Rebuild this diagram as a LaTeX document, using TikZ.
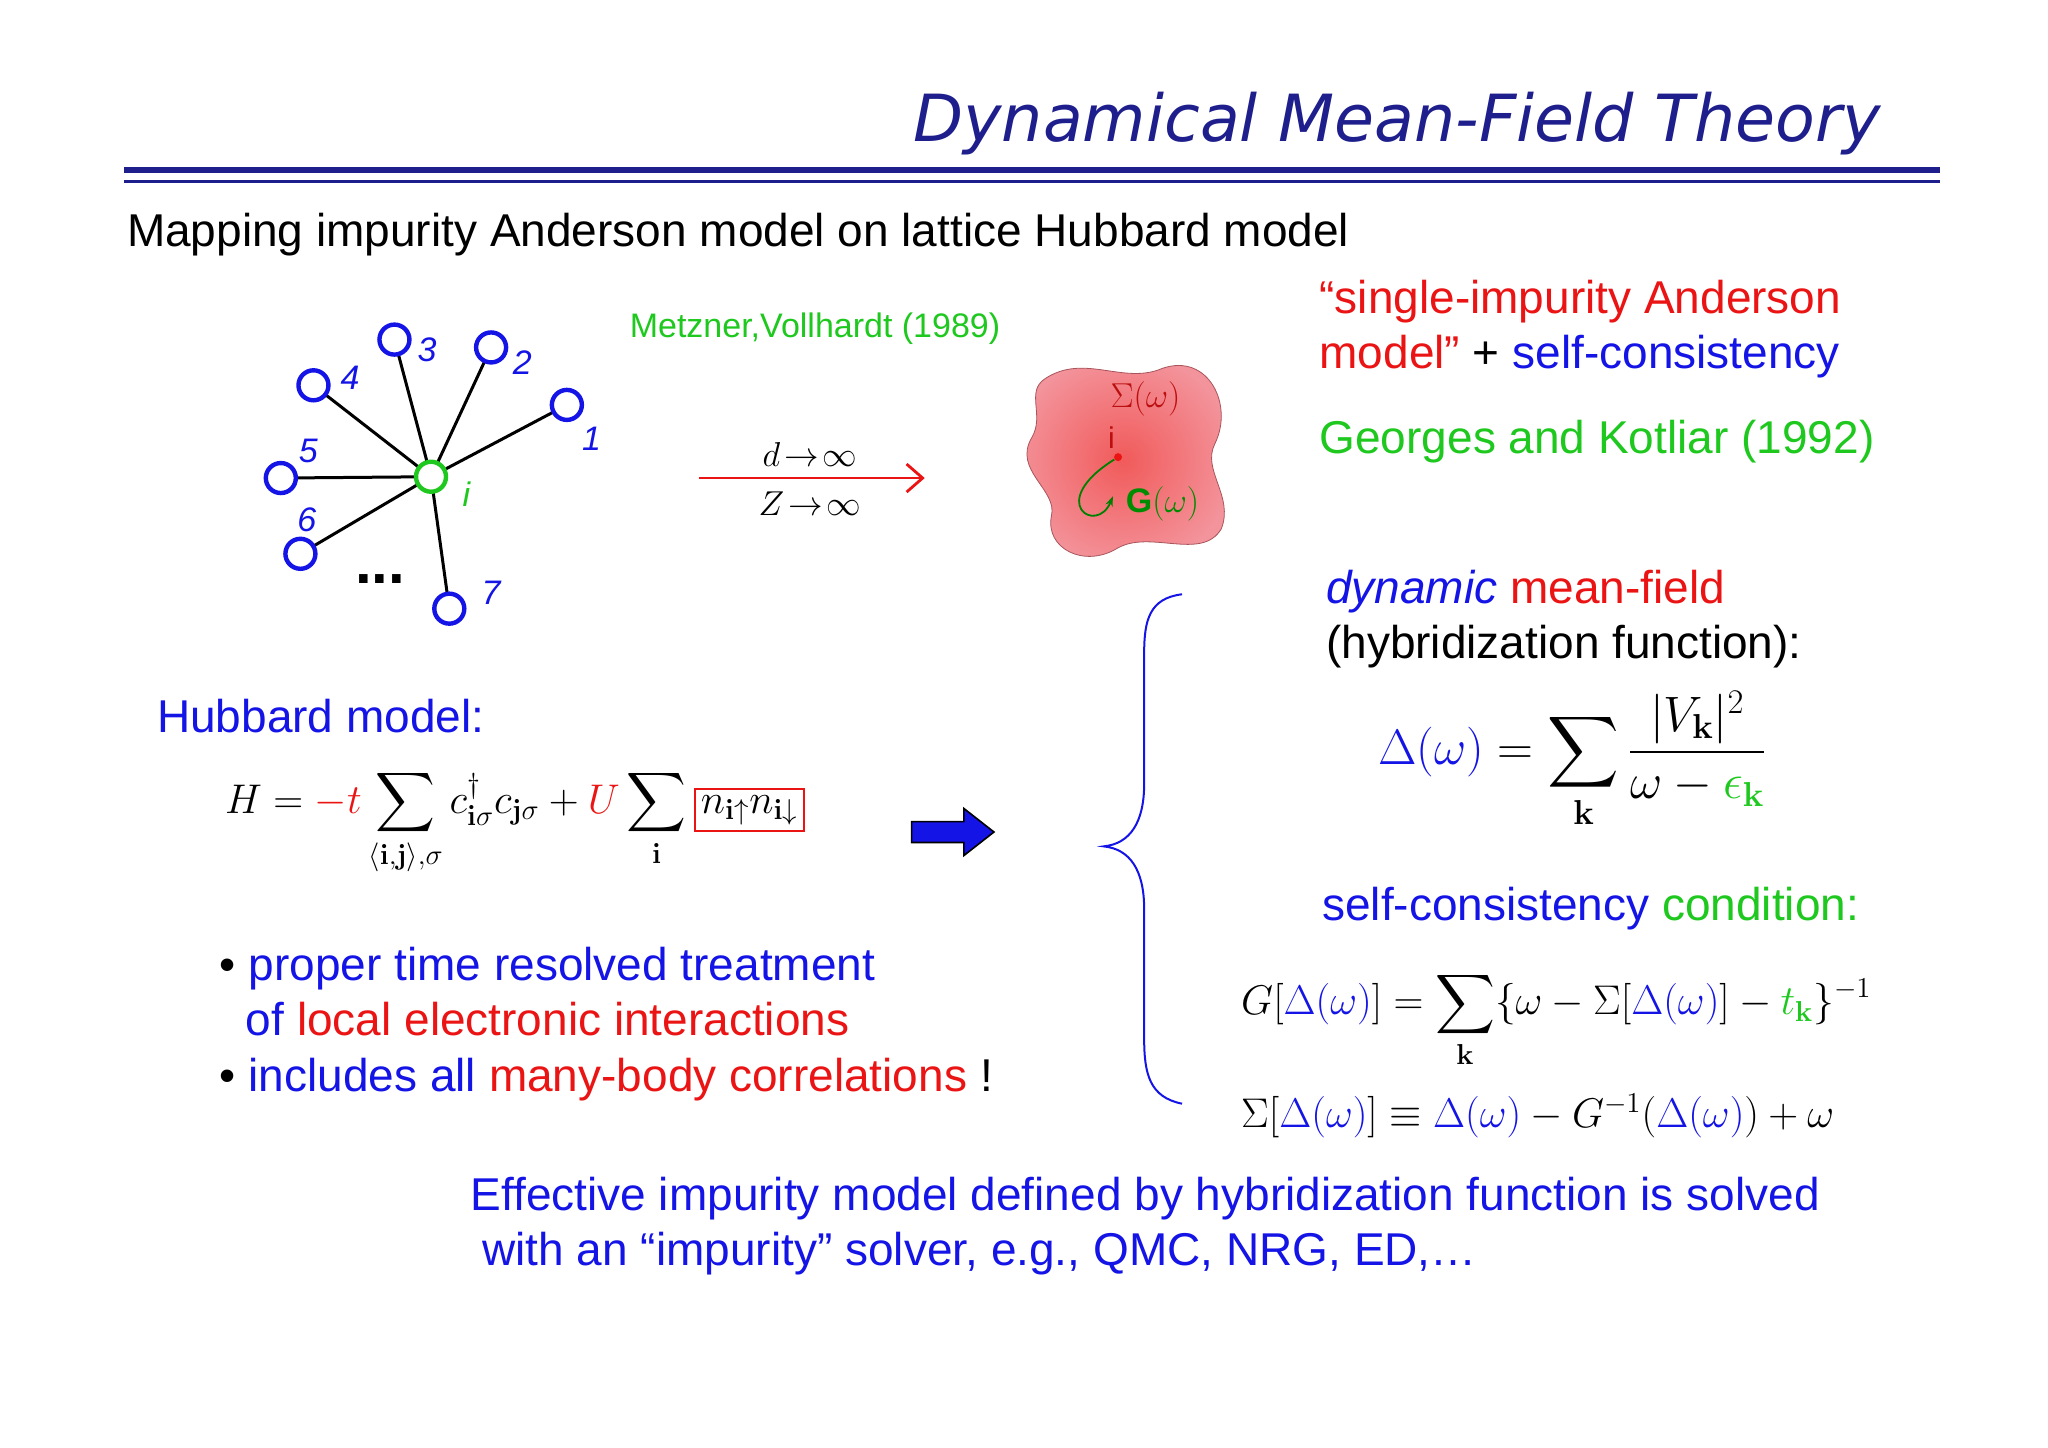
\documentclass[tikz,border=0pt]{standalone}
\usepackage{amsmath}
\usepackage[no-math]{fontspec}
\setmainfont{Liberation Sans}
\newfontfamily\titlefont{DejaVu Sans}
\usetikzlibrary{arrows.meta}
\definecolor{navy}{RGB}{30,30,140}
\definecolor{myblue}{RGB}{20,20,230}
\definecolor{myred}{RGB}{235,20,20}
\definecolor{mygreen}{RGB}{30,200,30}
\definecolor{pinkb}{RGB}{240,120,130}
\begin{document}
\begin{tikzpicture}[x=0.653pt,y=-0.653pt,
  site/.style={circle,draw=myblue,line width=2.2pt,minimum size=15pt,inner sep=0pt,fill=white},
  lab/.style={font=\fontsize{17}{20}\selectfont\itshape,text=myblue},
  txt/.style={anchor=base west,font=\fontsize{23}{27}\selectfont,inner sep=0},
  eq/.style={font=\fontsize{22}{26}\selectfont,inner sep=0}]
\useasboundingbox (0,0) rectangle (1568,1108);
\node[anchor=base east,inner sep=0,text=navy,font=\titlefont\fontsize{32.5}{36}\selectfont\itshape] (title) at (1440,108) {Dynamical Mean-Field Theory};
\draw[navy,line width=3.2pt] (95,130) -- (1485,130);
\draw[navy,line width=1.3pt] (95,139) -- (1485,139);
\node[txt] (sub) at (97,189) {Mapping impurity Anderson model on lattice Hubbard model};
% star graph
\draw[black,line width=1.5pt] (330,365) -- (302,260) (330,365) -- (376,266) (330,365) -- (240,295) (330,365) -- (434,310) (330,365) -- (215,366) (330,365) -- (230,424) (330,365) -- (344,466);
\node[site] (n3) at (302,260) {};
\node[site] (n2) at (376,266) {};
\node[site] (n4) at (240,295) {};
\node[site] (n1) at (434,310) {};
\node[site] (n5) at (215,366) {};
\node[site] (n6) at (230,424) {};
\node[site] (n7) at (344,466) {};
\node[site,draw=mygreen] (ni) at (330,365) {};
\node[lab] (l3) at (327,268) {3};
\node[lab] (l2) at (400,278) {2};
\node[lab] (l4) at (268,289) {4};
\node[lab] (l1) at (453,336) {1};
\node[lab] (l5) at (236,345) {5};
\node[lab] (l6) at (235,398) {6};
\node[lab] (l7) at (376,454) {7};
\node[lab,text=mygreen] (li) at (357,378) {i};
\node[font=\fontsize{30}{30}\selectfont\bfseries] (dots) at (291,443) {...};
\node[font=\fontsize{17}{20}\selectfont,text=mygreen] (mv) at (624,252) {Metzner,Vollhardt (1989)};
\coordinate (a1) at (535,366); \coordinate (a2) at (708,366);
\draw[myred,line width=1.4pt,-{Straight Barb[length=8pt,width=14pt]}] (a1) -- (a2);
\node[font=\fontsize{18}{20}\selectfont] (dl) at (620,348) {$d\!\to\!\infty$};
\node[font=\fontsize{18}{20}\selectfont] (zl) at (620,386) {$Z\!\to\!\infty$};
% blob
\shade[inner color=myred!70,outer color=pinkb!80,draw=pinkb!70!black,line width=0.4pt]
 (800,290) .. controls (830,270) and (860,295) .. (890,282) .. controls (925,270) and (945,310) .. (930,340)
 .. controls (920,360) and (945,380) .. (935,405) .. controls (920,430) and (880,405) .. (855,420)
 .. controls (830,435) and (800,420) .. (805,395) .. controls (810,375) and (775,360) .. (790,335)
 .. controls (800,318) and (785,300) .. (800,290) -- cycle;
\node[font=\fontsize{17}{20}\selectfont,text=myred!80!black] (sig) at (877,305) {$\Sigma(\omega)$};
\node[font=\fontsize{15}{18}\selectfont,text=myred!80!black] (bi) at (851,335) {i};
\node[circle,fill=myred,inner sep=0,minimum size=4pt] (dot) at (856,350) {};
\draw[green!50!black,line width=0.9pt,-{Stealth[length=5pt]}] (dot) .. controls (800,385) and (840,410) .. (852,380);
\node[font=\fontsize{17}{20}\selectfont,text=green!55!black] (gw) at (890,386) {\textbf{G}$(\omega)$};
% right top text
\node[txt,text=myred] (sia) at (1010,240) {“single-impurity Anderson};
\node[txt] (sib) at (1010,282) {\textcolor{myred}{model”} + \textcolor{myblue}{self-consistency}};
\node[txt,text=mygreen] (gk) at (1010,347) {Georges and Kotliar (1992)};
% brace
\draw[myblue,line width=1pt] (905,455) .. controls (880,458) and (876,475) .. (876,500) -- (876,600) .. controls (876,630) and (865,646) .. (845,648)
 .. controls (865,650) and (876,666) .. (876,696) -- (876,795) .. controls (876,822) and (880,840) .. (905,845);
\node[txt] (dmf) at (1015,462) {\textcolor{myblue}{\itshape dynamic} \textcolor{myred}{mean-field}};
\node[txt] (hyb) at (1015,504) {(hybridization function):};
\node[eq,anchor=west,font=\fontsize{24}{28}\selectfont] (deq) at (1055,582) {$\color{myblue}\Delta(\omega)\color{black} = \displaystyle\sum_{\mathbf{k}} \frac{|V_{\mathbf{k}}|^2}{\omega - \color{mygreen}\epsilon_{\mathbf{k}}}$};
% Hubbard
\node[txt,text=myblue] (hub) at (120,561) {Hubbard model:};
\node[eq,anchor=west,font=\fontsize{20.5}{26}\selectfont] (heq) at (172,630) {$H = \color{myred}-t\color{black}\displaystyle\sum_{\langle\mathbf{i},\mathbf{j}\rangle,\sigma} c^\dagger_{\mathbf{i}\sigma}c_{\mathbf{j}\sigma} + \color{myred}U\color{black}\sum_{\mathbf{i}}\setlength{\fboxsep}{2.5pt}\setlength{\fboxrule}{1.1pt}\fcolorbox{myred}{white}{$n_{\mathbf{i}\uparrow}n_{\mathbf{i}\downarrow}$}$};
\draw[black,fill=myblue,line width=0.8pt] (698,629) -- (738,629) -- (738,619) -- (761,637) -- (738,655) -- (738,645) -- (698,645) -- cycle;
\node[txt] (scc) at (1012,705) {\textcolor{myblue}{self-consistency} \textcolor{mygreen}{condition:}};
\node[eq,anchor=west] (geq) at (950,781) {$G[\color{myblue}\Delta(\omega)\color{black}] = \displaystyle\sum_{\mathbf{k}}\{\omega - \Sigma[\color{myblue}\Delta(\omega)\color{black}] - \color{mygreen}t_{\mathbf{k}}\color{black}\}^{-1}$};
\node[eq,anchor=west] (seq) at (950,854) {$\Sigma[\color{myblue}\Delta(\omega)\color{black}] \equiv \color{myblue}\Delta(\omega)\color{black} - G^{-1}(\color{myblue}\Delta(\omega)\color{black}) + \omega$};
% bullets
\node[txt] (bu1) at (168,751) {• \textcolor{myblue}{proper time resolved treatment}};
\node[txt] (bu2) at (188,793) {\textcolor{myblue}{of} \textcolor{myred}{local electronic interactions}};
\node[txt] (bu3) at (168,836) {• \textcolor{myblue}{includes all} \textcolor{myred}{many-body correlations} !};
\node[txt,text=myblue] (bt1) at (360,927) {Effective impurity model defined by hybridization function is solved};
\node[txt,text=myblue] (bt2) at (369,969) {with an “impurity” solver, e.g., QMC, NRG, ED,…};
\end{tikzpicture}
\end{document}
